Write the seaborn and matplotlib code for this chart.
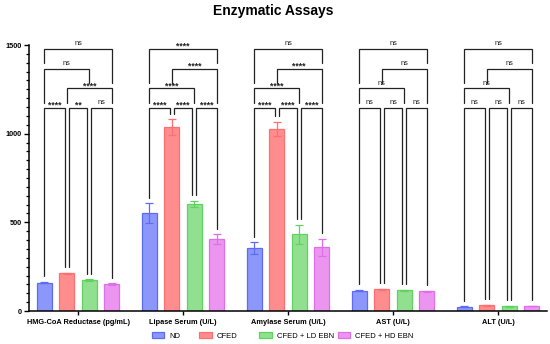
import numpy as np
import pandas as pd
import matplotlib
matplotlib.use("Agg")
import matplotlib.pyplot as plt
import matplotlib.patches as mpatches
from matplotlib.ticker import MultipleLocator
import seaborn as sns

# ---------------- data ----------------
categories = ["HMG-CoA Reductase (pg/mL)", "Lipase Serum (U/L)",
              "Amylase Serum (U/L)", "AST (U/L)", "ALT (U/L)"]
groups = ["ND", "CFED", "CFED + LD EBN", "CFED + HD EBN"]

nd_mean = [160, 553, 354, 115, 24]
cfed_mean = [212, 1036, 1028, 122, 32]
ld_mean = [175, 603, 432, 117, 26]
hd_mean = [152, 406, 359, 111, 28]

nd_err = [4, 54, 33, 3, 3]
cfed_err = [4, 45, 40, 3, 3]
ld_err = [4, 17, 52, 3, 3]
hd_err = [4, 26, 48, 3, 2]

# pairwise comparisons (indices into groups)
comparisons = [(0, 1), (1, 2), (2, 3), (0, 2), (1, 3), (0, 3)]
sig_hmg = ["****", "**", "ns", "ns", "****", "ns"]
sig_lipase = ["****", "****", "****", "****", "****", "****"]
sig_amylase = ["****", "****", "****", "****", "****", "ns"]
sig_ast = ["ns", "ns", "ns", "ns", "ns", "ns"]
sig_alt = ["ns", "ns", "ns", "ns", "ns", "ns"]
# stacking tier of each comparison per category
tiers_hmg = [0, 0, 0, 2, 1, 3]
tiers_other = [0, 0, 0, 1, 2, 3]

# ---------------- style ----------------
fills = ["#8c97fb", "#ff8d8d", "#90e090", "#ec95f0"]
edges = ["#5d6cf6", "#ff6f72", "#5fd25f", "#df6fe8"]

sns.set_theme(style="white")
plt.rcParams["font.family"] = ["Liberation Sans", "DejaVu Sans"]
plt.rcParams["text.color"] = "black"
plt.rcParams["xtick.color"] = "black"
plt.rcParams["ytick.color"] = "black"
plt.rcParams["axes.labelcolor"] = "black"

means = [nd_mean, cfed_mean, ld_mean, hd_mean]
errs = [nd_err, cfed_err, ld_err, hd_err]
rows = []
for h, g in enumerate(groups):
    for c, cat in enumerate(categories):
        rows.append({"category": cat, "group": g, "value": means[h][c]})
df = pd.DataFrame(rows)

fig = plt.figure(figsize=(5.5, 3.44), dpi=100)
ax = fig.add_axes([29 / 550, 1 - 311 / 344, 518 / 550, 266 / 344])

sns.barplot(data=df, x="category", y="value", hue="group", order=categories,
            hue_order=groups, palette=fills, width=0.857, gap=0.35,
            errorbar=None, legend=False, ax=ax)

bars = [p for p in ax.patches if isinstance(p, mpatches.Rectangle)
        and p.get_height() > 0]
centers = {}
step = 0.857 / 4
for bar in bars:
    xc = bar.get_x() + bar.get_width() / 2
    c = int(round(xc))
    h = int(round((xc - c) / step + 1.5))
    centers[(c, h)] = xc
    bar.set_facecolor(fills[h])
    bar.set_edgecolor(edges[h])
    bar.set_linewidth(0.9)
    ax.errorbar(xc, means[h][c], yerr=errs[h][c], fmt="none",
                ecolor=edges[h], elinewidth=0.9, capsize=2.8,
                capthick=0.9, zorder=3)

ax.set_ylim(0, 1500)
ax.set_xlim(-0.467, 4.467)
ax.yaxis.set_major_locator(MultipleLocator(500))
ax.yaxis.set_minor_locator(MultipleLocator(50))
ax.tick_params(axis="y", which="major", length=3.5, width=1.0, labelsize=5.2,
               pad=1.5, left=True, color="black", labelcolor="black")
ax.tick_params(axis="y", which="minor", length=2, width=0.9, left=True,
               color="black")
ax.tick_params(axis="x", which="major", length=3, width=1.0, labelsize=5.3,
               pad=2.5, bottom=True, color="black", labelcolor="black")
for lab in ax.get_yticklabels() + ax.get_xticklabels():
    lab.set_fontweight("bold")
ax.set_xlabel("")
ax.set_ylabel("")
for s in ["top", "right"]:
    ax.spines[s].set_visible(False)
for s in ["left", "bottom"]:
    ax.spines[s].set_linewidth(1.1)
    ax.spines[s].set_color("black")

# ---------------- significance brackets ----------------
tier_y = [1143, 1255, 1367, 1479]
gap = 32
off = 0.02
sig_all = [sig_hmg, sig_lipase, sig_amylase, sig_ast, sig_alt]
for c in range(len(categories)):
    tiers = tiers_hmg if c == 0 else tiers_other
    sigs = sig_all[c]
    drawn = []  # (x0, x1, y)
    order = sorted(range(len(comparisons)), key=lambda k: tiers[k])
    for k in order:
        i, j = comparisons[k]
        y = tier_y[tiers[k]]
        x0 = centers[(c, i)]
        x1 = centers[(c, j)]
        if tiers[k] == 0:
            if i > 0:
                x0 += off
            if j < 3:
                x1 -= off
        legs = []
        for x, g in ((x0, i), (x1, j)):
            below = means[g][c] + errs[g][c]
            for (a0, a1, yy) in drawn:
                if a0 - 0.03 <= x <= a1 + 0.03:
                    below = max(below, yy)
            legs.append(below + gap)
        ax.plot([x0, x0, x1, x1], [legs[0], y, y, legs[1]], color="#222222",
                lw=0.9, solid_joinstyle="miter", clip_on=False, zorder=4)
        drawn.append((x0, x1, y))
        lab = sigs[k]
        xm = (x0 + x1) / 2
        if lab == "ns":
            ax.text(xm, y + 22, lab, ha="center", va="baseline", fontsize=5.3,
                    color="#222222", clip_on=False)
        else:
            ax.text(xm, y + 2, lab, ha="center", va="baseline", fontsize=6.2,
                    fontweight="bold", color="#222222", clip_on=False)

# ---------------- title & legend ----------------
fig.text(0.497, 1 - 11 / 344, "Enzymatic Assays", ha="center", va="center",
         fontsize=10, fontweight="bold", color="black")
legend_left_px = [151.7, 199.3, 259.0, 337.7]
for h in range(4):
    hd = mpatches.Patch(facecolor=fills[h], edgecolor=edges[h], linewidth=0.9,
                        label=groups[h])
    leg = fig.legend(handles=[hd], loc="center left",
                     bbox_to_anchor=(legend_left_px[h] / 550, 1 - 336 / 344),
                     frameon=False, fontsize=5.5, handlelength=1.65,
                     handleheight=0.72, handletextpad=0.65,
                     borderpad=0, borderaxespad=0)

fig.savefig("out.png", dpi=100)
